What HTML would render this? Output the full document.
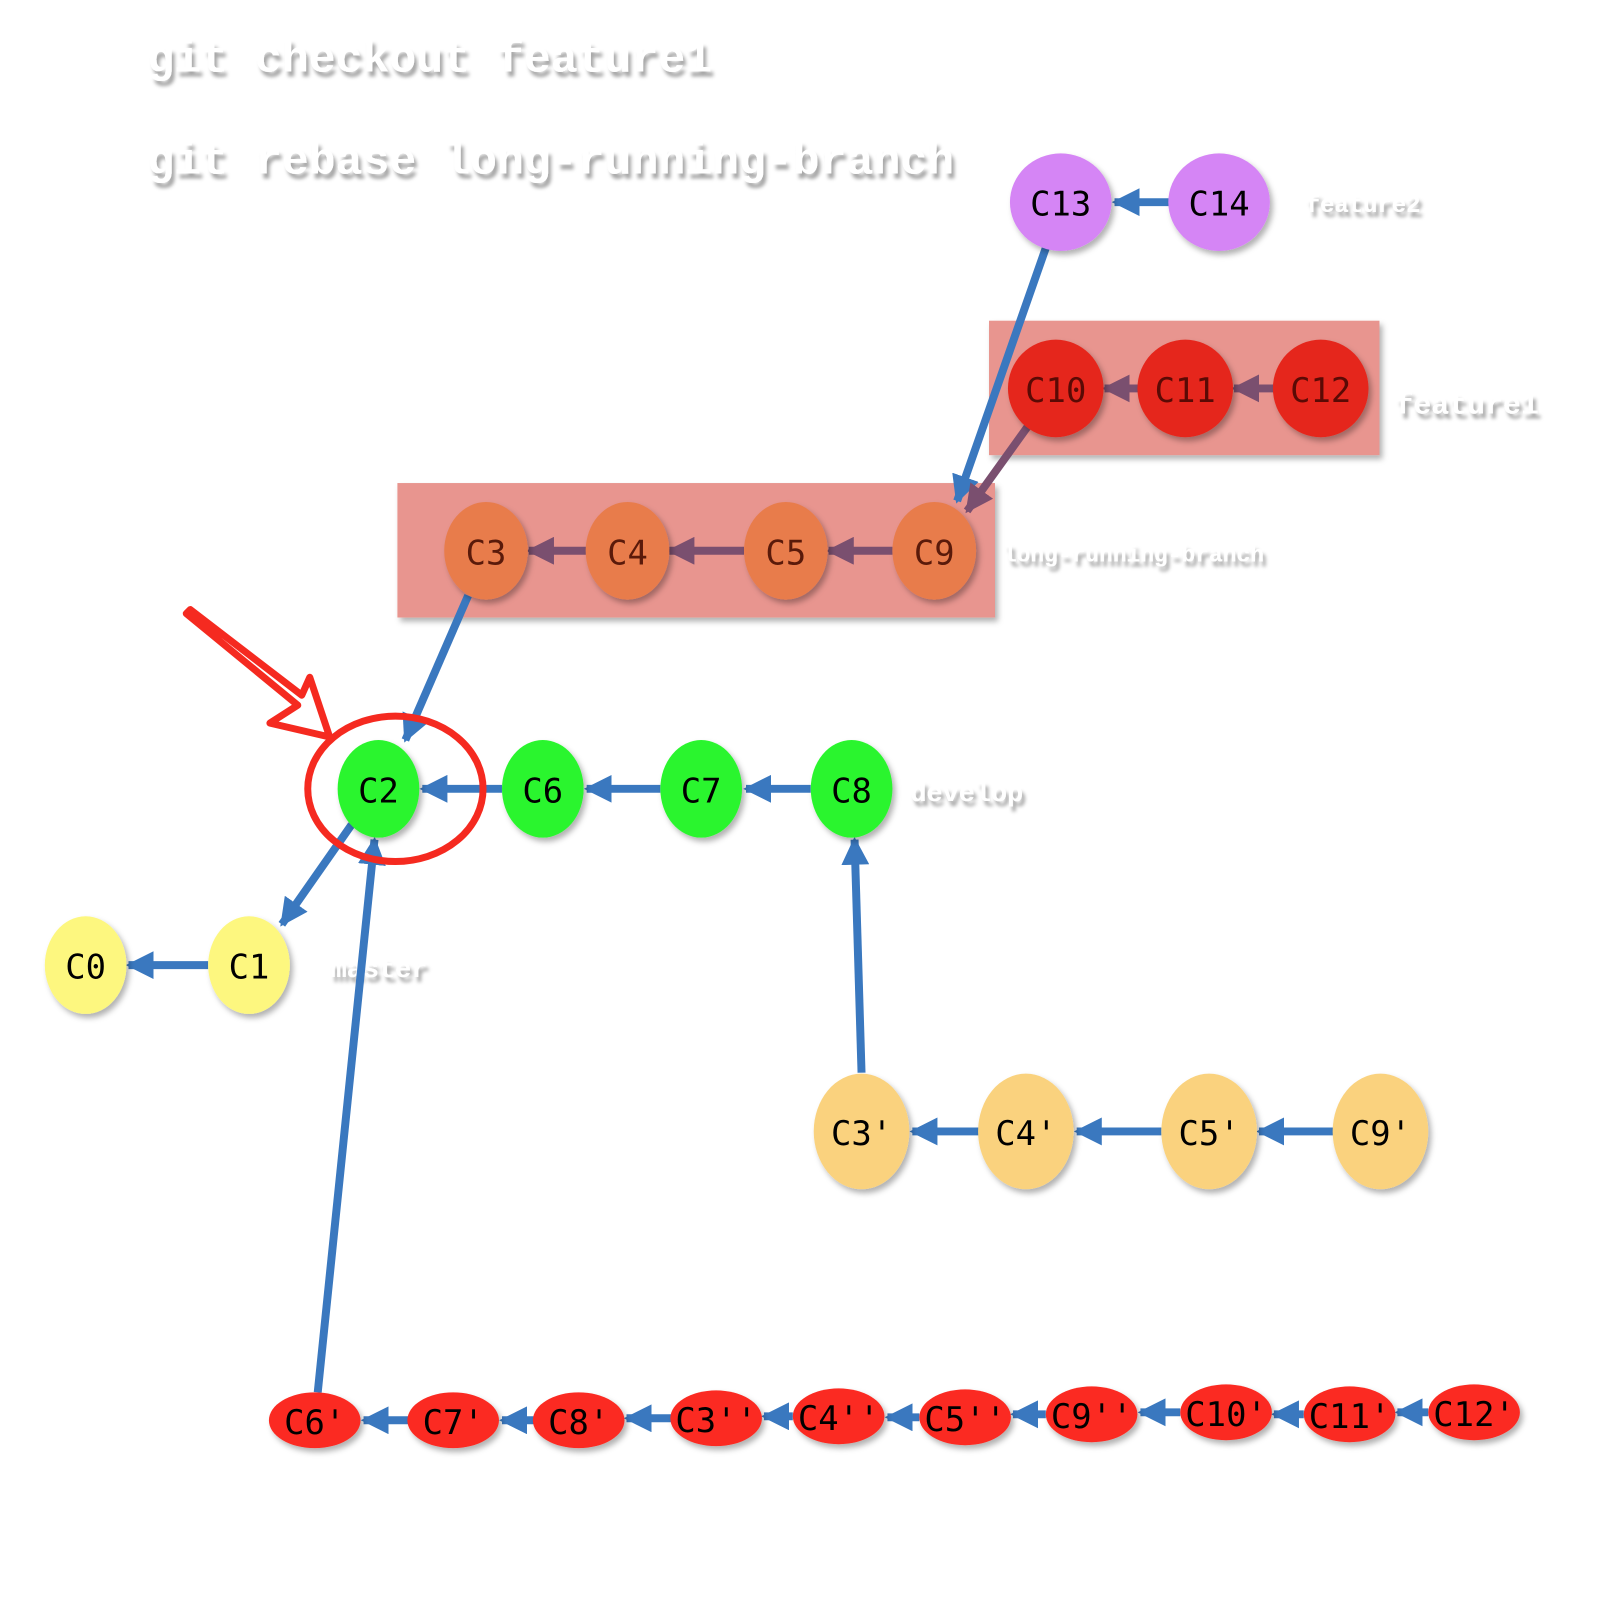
<!DOCTYPE html>
<html><head><meta charset="utf-8"><style>
html,body{margin:0;padding:0;background:#fff;}
svg{display:block;}
.cmd{font-family:"Liberation Mono",monospace;font-size:45px;fill:#fff;font-weight:bold;}
.lbl{font-family:"Liberation Mono",monospace;fill:#fff;font-weight:bold;}
.n{font-family:"DejaVu Sans Mono","Liberation Mono",monospace;font-size:34px;text-anchor:middle;dominant-baseline:central;}
</style></head><body>
<svg width="1600" height="1600" viewBox="0 0 1600 1600" xmlns="http://www.w3.org/2000/svg">
<defs>
<filter id="sh" x="-30%" y="-30%" width="160%" height="160%"><feDropShadow dx="3" dy="4" stdDeviation="3" flood-color="#000" flood-opacity="0.3"/></filter>
<filter id="tsh" x="-10%" y="-30%" width="120%" height="160%"><feDropShadow dx="3" dy="5" stdDeviation="2" flood-color="#000" flood-opacity="0.35"/></filter>
<marker id="ab" viewBox="0 0 10 10" refX="9" refY="5" markerWidth="3.5" markerHeight="3.5" orient="auto"><path d="M0,0 L10,5 L0,10 z" fill="#3a78bf"/></marker>
<marker id="ap" viewBox="0 0 10 10" refX="9" refY="5" markerWidth="3.5" markerHeight="3.5" orient="auto"><path d="M0,0 L10,5 L0,10 z" fill="#7a4f6f"/></marker>
</defs>
<g transform="translate(-1,-2) scale(0.996)">
<g filter="url(#tsh)">
<text class="cmd" x="149" y="74">git checkout feature1</text>
<text class="cmd" x="149" y="176">git rebase long-running-branch</text>
<text class="lbl" x="1312" y="215" font-size="24">feature2</text>
<text class="lbl" x="1402" y="417" font-size="30">feature1</text>
<text class="lbl" x="1008" y="566" font-size="23">long-running-branch</text>
<text class="lbl" x="915" y="806" font-size="27">develop</text>
<text class="lbl" x="333" y="983" font-size="27">master</text>
</g>

<rect x="994" y="324" width="392" height="135" fill="#e8958f" filter="url(#sh)"/>
<rect x="400" y="487" width="600" height="135" fill="#e8958f" filter="url(#sh)"/>

<g stroke="#3a78bf" stroke-width="8" fill="none" marker-end="url(#ab)">
<line x1="1051" y1="251" x2="962" y2="505"/>
<line x1="1175" y1="205" x2="1120" y2="205"/>
<line x1="471" y1="600" x2="408" y2="745"/>
<line x1="505" y1="794" x2="425" y2="794"/>
<line x1="664" y1="794" x2="590" y2="794"/>
<line x1="815" y1="794" x2="750" y2="794"/>
<line x1="354" y1="830" x2="284" y2="930"/>
<line x1="210" y1="971" x2="130" y2="971"/>
<line x1="320" y1="1400" x2="377" y2="845"/>
<line x1="866" y1="1079" x2="859" y2="845"/>
<line x1="984" y1="1138" x2="917" y2="1138"/>
<line x1="1167" y1="1138" x2="1082" y2="1138"/>
<line x1="1340" y1="1138" x2="1265" y2="1138"/>
<line x1="412" y1="1428" x2="366" y2="1428"/>
<line x1="538" y1="1428" x2="505" y2="1428"/>
<line x1="675" y1="1426" x2="630" y2="1426"/>
<line x1="797" y1="1424" x2="768" y2="1424"/>
<line x1="924" y1="1425" x2="892" y2="1425"/>
<line x1="1051" y1="1422" x2="1018" y2="1422"/>
<line x1="1186" y1="1420" x2="1146" y2="1420"/>
<line x1="1310" y1="1422" x2="1280" y2="1422"/>
<line x1="1435" y1="1420" x2="1404" y2="1420"/>
</g>
<g stroke="#7a4f6f" stroke-width="8" fill="none" marker-end="url(#ap)">
<line x1="1033" y1="430" x2="972" y2="515"/>
<line x1="1146" y1="392" x2="1110" y2="392"/>
<line x1="1282" y1="392" x2="1240" y2="392"/>
<line x1="590" y1="555" x2="532" y2="555"/>
<line x1="748" y1="555" x2="673" y2="555"/>
<line x1="897" y1="555" x2="833" y2="555"/>
</g>

<g filter="url(#sh)">
<ellipse cx="1066" cy="205" rx="51" ry="49" fill="#d585f5"/>
<ellipse cx="1225" cy="205" rx="51" ry="49" fill="#d585f5"/>
<ellipse cx="1061" cy="392" rx="48" ry="49" fill="#e5271b"/>
<ellipse cx="1191" cy="392" rx="48" ry="49" fill="#e5271b"/>
<ellipse cx="1327" cy="392" rx="48" ry="49" fill="#e5271b"/>
<ellipse cx="489" cy="555" rx="42" ry="49" fill="#e87c4c"/>
<ellipse cx="631" cy="555" rx="42" ry="49" fill="#e87c4c"/>
<ellipse cx="790" cy="555" rx="42" ry="49" fill="#e87c4c"/>
<ellipse cx="939" cy="555" rx="42" ry="49" fill="#e87c4c"/>
<ellipse cx="381" cy="794" rx="41" ry="49" fill="#2af52e"/>
<ellipse cx="546" cy="794" rx="41" ry="49" fill="#2af52e"/>
<ellipse cx="705" cy="794" rx="41" ry="49" fill="#2af52e"/>
<ellipse cx="856" cy="794" rx="41" ry="49" fill="#2af52e"/>
<ellipse cx="87" cy="971" rx="41" ry="49" fill="#fdf77f"/>
<ellipse cx="251" cy="971" rx="41" ry="49" fill="#fdf77f"/>
<ellipse cx="866" cy="1138" rx="48" ry="58" fill="#fad27e"/>
<ellipse cx="1031" cy="1138" rx="48" ry="58" fill="#fad27e"/>
<ellipse cx="1215" cy="1138" rx="48" ry="58" fill="#fad27e"/>
<ellipse cx="1387" cy="1138" rx="48" ry="58" fill="#fad27e"/>
<g fill="#fb2a20">
<ellipse cx="317" cy="1428" rx="46" ry="28"/>
<ellipse cx="456" cy="1428" rx="46" ry="28"/>
<ellipse cx="582" cy="1428" rx="46" ry="28"/>
<ellipse cx="720" cy="1426" rx="46" ry="28"/>
<ellipse cx="843" cy="1424" rx="46" ry="28"/>
<ellipse cx="970" cy="1425" rx="46" ry="28"/>
<ellipse cx="1097" cy="1422" rx="46" ry="28"/>
<ellipse cx="1232" cy="1420" rx="46" ry="28"/>
<ellipse cx="1356" cy="1422" rx="46" ry="28"/>
<ellipse cx="1481" cy="1420" rx="46" ry="28"/>
</g>
</g>

<g fill="#000">
<text class="n" x="1066" y="207">C13</text>
<text class="n" x="1225" y="207">C14</text>
<text class="n" x="1061" y="394" fill="#5a0a05">C10</text>
<text class="n" x="1191" y="394" fill="#5a0a05">C11</text>
<text class="n" x="1327" y="394" fill="#5a0a05">C12</text>
<text class="n" x="489" y="557" fill="#5a1a0a">C3</text>
<text class="n" x="631" y="557" fill="#5a1a0a">C4</text>
<text class="n" x="790" y="557" fill="#5a1a0a">C5</text>
<text class="n" x="939" y="557" fill="#5a1a0a">C9</text>
<text class="n" x="381" y="796">C2</text>
<text class="n" x="546" y="796">C6</text>
<text class="n" x="705" y="796">C7</text>
<text class="n" x="856" y="796">C8</text>
<text class="n" x="87" y="973">C0</text>
<text class="n" x="251" y="973">C1</text>
<text class="n" x="866" y="1140">C3'</text>
<text class="n" x="1031" y="1140">C4'</text>
<text class="n" x="1215" y="1140">C5'</text>
<text class="n" x="1387" y="1140">C9'</text>
</g>
<g fill="#000">
<text class="n" x="317" y="1430" font-size="21">C6'</text>
<text class="n" x="456" y="1430" font-size="21">C7'</text>
<text class="n" x="582" y="1430" font-size="21">C8'</text>
<text class="n" x="720" y="1428" font-size="21">C3''</text>
<text class="n" x="843" y="1426" font-size="21">C4''</text>
<text class="n" x="970" y="1427" font-size="21">C5''</text>
<text class="n" x="1097" y="1424" font-size="21">C9''</text>
<text class="n" x="1232" y="1422" font-size="21">C10'</text>
<text class="n" x="1356" y="1424" font-size="21">C11'</text>
<text class="n" x="1481" y="1422" font-size="21">C12'</text>
</g>

<ellipse cx="398" cy="794" rx="88" ry="73" fill="none" stroke="#f52a20" stroke-width="7"/>
<path d="M188,618 L300,710 L272,728 L332,742 L312,682 L304,700 L192,614 z" fill="none" stroke="#f52a20" stroke-width="7" stroke-linejoin="round"/>
</g>
</svg>
</body></html>
